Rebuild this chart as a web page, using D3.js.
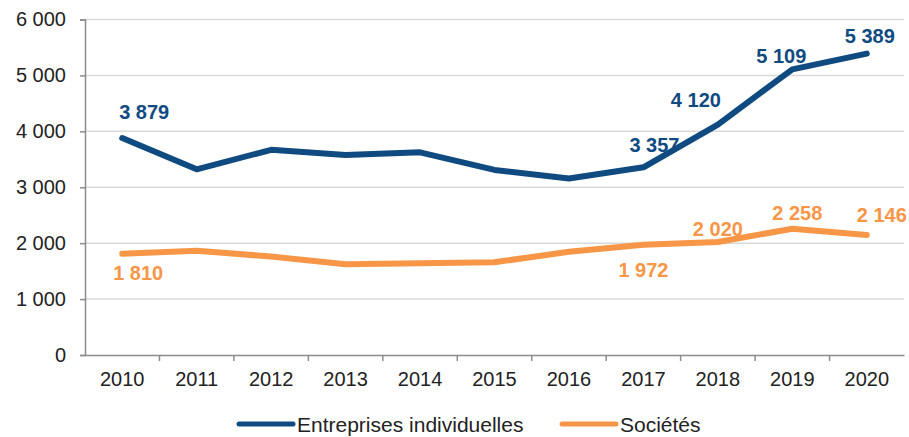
<!DOCTYPE html>
<html>
<head>
<meta charset="utf-8">
<script src="https://cdn.jsdelivr.net/npm/d3@7"></script>
<style>
  body { margin: 0; background: #fff; }
  svg { display: block; font-family: "Liberation Sans", Arial, sans-serif; }
</style>
</head>
<body>
<svg id="chart" width="909" height="437"></svg>
<script>
var years = ["2010", "2011", "2012", "2013", "2014", "2015", "2016", "2017", "2018", "2019", "2020"];
var entreprises = [3879, 3320, 3670, 3575, 3625, 3310, 3155, 3357, 4120, 5109, 5389];
var societes = [1810, 1866, 1760, 1622, 1640, 1658, 1848, 1972, 2020, 2258, 2146];
var yTicks = [0, 1000, 2000, 3000, 4000, 5000, 6000];

// which points carry a value label, and where it sits relative to the point
var entLabels = [
    { i: 0, dx: 22, dy: -26 },
    { i: 7, dx: 11, dy: -22 },
    { i: 8, dx: -22, dy: -25 },
    { i: 9, dx: -11, dy: -14 },
    { i: 10, dx: 3, dy: -18 }
];
var socLabels = [
    { i: 0, dx: 16, dy: 19 },
    { i: 7, dx: 0, dy: 25 },
    { i: 8, dx: 0, dy: -13 },
    { i: 9, dx: 5, dy: -16 },
    { i: 10, dx: 15, dy: -20 }
];

var blue = "#0f4a80", orange = "#f79646";
var fr = d3.formatLocale({ decimal: ",", thousands: " ", grouping: [3], currency: ["", " €"] });
var fmt = fr.format(",d");

var svg = d3.select("#chart");
var margin = { left: 85, right: 5, top: 19.5, bottom: 82 };
var width = 909 - margin.left - margin.right;
var height = 437 - margin.top - margin.bottom;

var g = svg.append("g").attr("transform", "translate(" + margin.left + "," + margin.top + ")");

var x = d3.scaleBand().domain(years).range([0, width]);
var y = d3.scaleLinear().domain([0, 6000]).range([height, 0]);

// gridlines
g.selectAll(".grid")
    .data(yTicks.filter(function (d) { return d > 0; }))
    .enter().append("line")
    .attr("x1", 0).attr("x2", width)
    .attr("y1", function (d) { return y(d); })
    .attr("y2", function (d) { return y(d); })
    .attr("stroke", "#d9d9d9")
    .attr("stroke-width", 1.5);

// y axis
var yAxis = g.append("g")
    .call(d3.axisLeft(y).tickValues(yTicks).tickFormat(fmt).tickSize(5).tickPadding(14));
yAxis.select(".domain").attr("stroke", "#8c8c8c").attr("stroke-width", 1.5);
yAxis.selectAll(".tick line").attr("stroke", "#8c8c8c").attr("stroke-width", 1.5);
yAxis.selectAll("text").attr("font-size", 20).attr("fill", "#222").attr("font-family", "Liberation Sans, Arial, sans-serif");

// x axis
var xAxis = g.append("g")
    .attr("transform", "translate(0," + height + ")")
    .call(d3.axisBottom(x).tickSize(0).tickPadding(17));
xAxis.select(".domain").attr("stroke", "#8c8c8c").attr("stroke-width", 1.5);
xAxis.selectAll("text").attr("font-size", 20).attr("fill", "#222").attr("font-family", "Liberation Sans, Arial, sans-serif");
// tick marks between categories
xAxis.selectAll(".sep")
    .data(years.slice(1))
    .enter().append("line")
    .attr("x1", function (d) { return x(d); })
    .attr("x2", function (d) { return x(d); })
    .attr("y1", 0).attr("y2", 6)
    .attr("stroke", "#8c8c8c").attr("stroke-width", 1.5);

var cx = function (i) { return x(years[i]) + x.bandwidth() / 2; };
var line = d3.line()
    .x(function (d, i) { return cx(i); })
    .y(function (d) { return y(d); });

function drawSeries(values, color, labels) {
    g.append("path")
        .datum(values)
        .attr("fill", "none")
        .attr("stroke", color)
        .attr("stroke-width", 6)
        .attr("stroke-linejoin", "round")
        .attr("stroke-linecap", "round")
        .attr("d", line);

    g.selectAll(null)
        .data(labels)
        .enter().append("text")
        .attr("x", function (d) { return cx(d.i) + d.dx; })
        .attr("y", function (d) { return y(values[d.i]) + d.dy; })
        .attr("dy", "0.36em")
        .attr("text-anchor", "middle")
        .attr("font-size", 20)
        .attr("font-weight", "bold")
        .attr("fill", color)
        .text(function (d) { return fmt(values[d.i]); });
}

drawSeries(societes, orange, socLabels);
drawSeries(entreprises, blue, entLabels);

// legend
var legendItems = [
    { name: "Entreprises individuelles", color: blue, x: 239 },
    { name: "Sociétés", color: orange, x: 562 }
];
var legend = svg.selectAll(".legend")
    .data(legendItems)
    .enter().append("g")
    .attr("transform", function (d) { return "translate(" + d.x + ",424)"; });
legend.append("line")
    .attr("x1", 0).attr("x2", 54)
    .attr("stroke", function (d) { return d.color; })
    .attr("stroke-width", 5)
    .attr("stroke-linecap", "round");
legend.append("text")
    .attr("x", 58)
    .attr("dy", "0.36em")
    .attr("font-size", 21)
    .attr("fill", "#222")
    .text(function (d) { return d.name; });
</script>
</body>
</html>
